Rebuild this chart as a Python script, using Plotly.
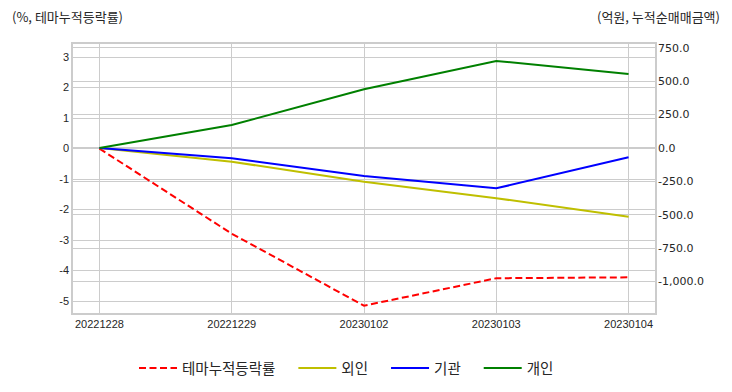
import plotly.graph_objects as go

dates = ["20221228", "20221229", "20230102", "20230103", "20230104"]
theme_rate = [0.0, -2.79, -5.15, -4.25, -4.22]
foreign = [0.0, -103, -252, -376, -514]
institution = [0.0, -77, -210, -302, -70]
individual = [0.0, 172, 439, 651, 554]

left_ticks = [-5, -4, -3, -2, -1, 0, 1, 2, 3]
left_ticktext = [str(v) for v in left_ticks]
right_ticks = [-1000, -750, -500, -250, 0, 250, 500, 750]
right_ticktext = ["-1,000.0", "-750.0", "-500.0", "-250.0", "0.0", "250.0", "500.0", "750.0"]

KR = "Noto Sans CJK KR"
NUM = "Liberation Sans"
GRID = "#cccccc"
TXT = "#262626"
PAD = "\u00a0" * 4

fig = go.Figure()
fig.add_trace(go.Scatter(x=dates, y=theme_rate, name="테마누적등락률" + PAD, mode="lines",
                         line=dict(color="#ff0000", width=2, dash="7px,3.5px"), yaxis="y"))
fig.add_trace(go.Scatter(x=dates, y=foreign, name="외인" + PAD, mode="lines",
                         line=dict(color="#bfbf00", width=2), yaxis="y2"))
fig.add_trace(go.Scatter(x=dates, y=institution, name="기관" + PAD, mode="lines",
                         line=dict(color="#0000ff", width=2), yaxis="y2"))
fig.add_trace(go.Scatter(x=dates, y=individual, name="개인", mode="lines",
                         line=dict(color="#008000", width=2), yaxis="y2"))

fig.update_layout(
    width=732, height=392,
    margin=dict(l=73, r=77, t=44, b=79, autoexpand=False),
    paper_bgcolor="white", plot_bgcolor="white",
    font=dict(family=NUM, size=11, color=TXT),
    xaxis=dict(type="category", range=[-0.2, 4.2], showgrid=True, gridcolor=GRID, gridwidth=1,
               showline=True, linecolor=GRID, linewidth=1.5, mirror=True, ticks="",
               ticklabelstandoff=0, automargin=False,
               tickfont=dict(family=NUM, size=11, color=TXT), zeroline=False),
    yaxis=dict(range=[-5.39, 3.43], tickvals=left_ticks, ticktext=left_ticktext,
               showgrid=True, gridcolor=GRID, gridwidth=1, zeroline=False, automargin=False,
               showline=True, linecolor=GRID, linewidth=1.5, mirror=True, ticks="",
               tickfont=dict(family=NUM, size=11, color=TXT)),
    yaxis2=dict(overlaying="y", side="right", range=[-1235, 778], tickvals=right_ticks,
                ticktext=right_ticktext, showgrid=True, gridcolor=GRID, gridwidth=1,
                zeroline=False, showline=False, ticks="", ticklabelstandoff=2, automargin=False,
                tickfont=dict(family="DejaVu Sans", size=11, color=TXT)),
    legend=dict(orientation="h", x=0.1048, xanchor="left", y=-0.205, yanchor="middle",
                font=dict(family=KR, size=14.5, color=TXT), itemwidth=38,
                bgcolor="rgba(0,0,0,0)"),
    showlegend=True,
)

fig.add_annotation(text="(%, 테마누적등락률)", xref="paper", yref="paper", x=0, y=1,
                   xshift=-63, yshift=28, xanchor="left", yanchor="middle", showarrow=False,
                   font=dict(family=KR, size=13, color=TXT))
fig.add_annotation(text="(억원, 누적순매매금액)", xref="paper", yref="paper", x=1, y=1,
                   xshift=67, yshift=28, xanchor="right", yanchor="middle", showarrow=False,
                   font=dict(family=KR, size=13, color=TXT))

fig.write_html("out.html", config={"displayModeBar": False},
               post_script="document.body.style.margin='0';document.body.style.padding='0';")
